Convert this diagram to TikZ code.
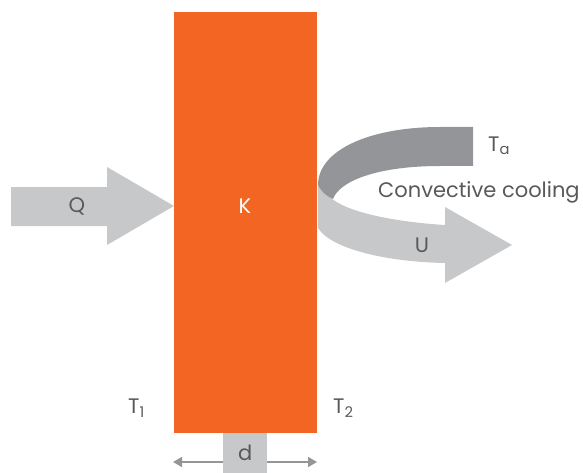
\documentclass[tikz,border=0pt]{standalone}
\usepackage{fontspec}
\setmainfont{Poppins}
\usetikzlibrary{arrows.meta}
\definecolor{wallorange}{HTML}{F26522}
\definecolor{lightg}{HTML}{C7C8CA}
\definecolor{darkg}{HTML}{939598}
\definecolor{txt}{HTML}{58595B}
\begin{document}
\begin{tikzpicture}[x=1pt,y=-1pt,
  lbl/.style={text=txt,font=\fontsize{21}{24}\selectfont,inner sep=0pt},
  dimarrow/.style={draw=darkg,line width=1.6pt,-{Triangle[length=9pt,width=10pt]}}]
\useasboundingbox (0,0) rectangle (583,473);
% wall
\node[fill=wallorange,minimum width=143pt,minimum height=421pt,inner sep=0pt,anchor=north west] (wall) at (174,12) {};
% Q arrow
\fill[lightg] (11,187) -- (107,187) -- (107,167) -- (174,206) -- (107,245) -- (107,226) -- (11,226) -- cycle;
% light front band of convective arrow
\fill[lightg] (318,182) -- (318,228) .. controls (332,250) and (390,262) .. (445,263) -- (445,283) -- (512,245) -- (445,207) -- (445,225) .. controls (395,222) and (345,212) .. (330,197) .. controls (324,192) and (320,187) .. (318,182) -- cycle;
% dark back band
\fill[darkg] (473,127) -- (440,127) .. controls (370,127) and (318,150) .. (318,185) .. controls (321,191) and (326,196) .. (333,199) .. controls (340,180) and (380,166) .. (440,166) -- (473,166) -- cycle;
% labels
\node[lbl] (Q) at (77,206) {Q};
\node[lbl,text=white] (K) at (245,206) {K};
\node[lbl,anchor=west] (Ta) at (488,146) {T\textsubscript{a}};
\node[lbl,anchor=west] (conv) at (378,192) {Convective cooling};
\node[lbl] (U) at (422,245) {U};
\node[lbl,anchor=west] (T1) at (128,408) {T\textsubscript{1}};
\node[lbl,anchor=west] (T2) at (333,408) {T\textsubscript{2}};
% d dimension
\node[fill=lightg,minimum width=44pt,minimum height=40pt,inner sep=0pt,anchor=north west,lbl,text=txt] (dbox) at (223,433) {d};
\coordinate (dl) at (173,462);
\coordinate (dr) at (317,462);
\draw[dimarrow] (dbox.west |- dl) -- (dl);
\draw[dimarrow] (dbox.east |- dr) -- (dr);
\end{tikzpicture}
\end{document}
